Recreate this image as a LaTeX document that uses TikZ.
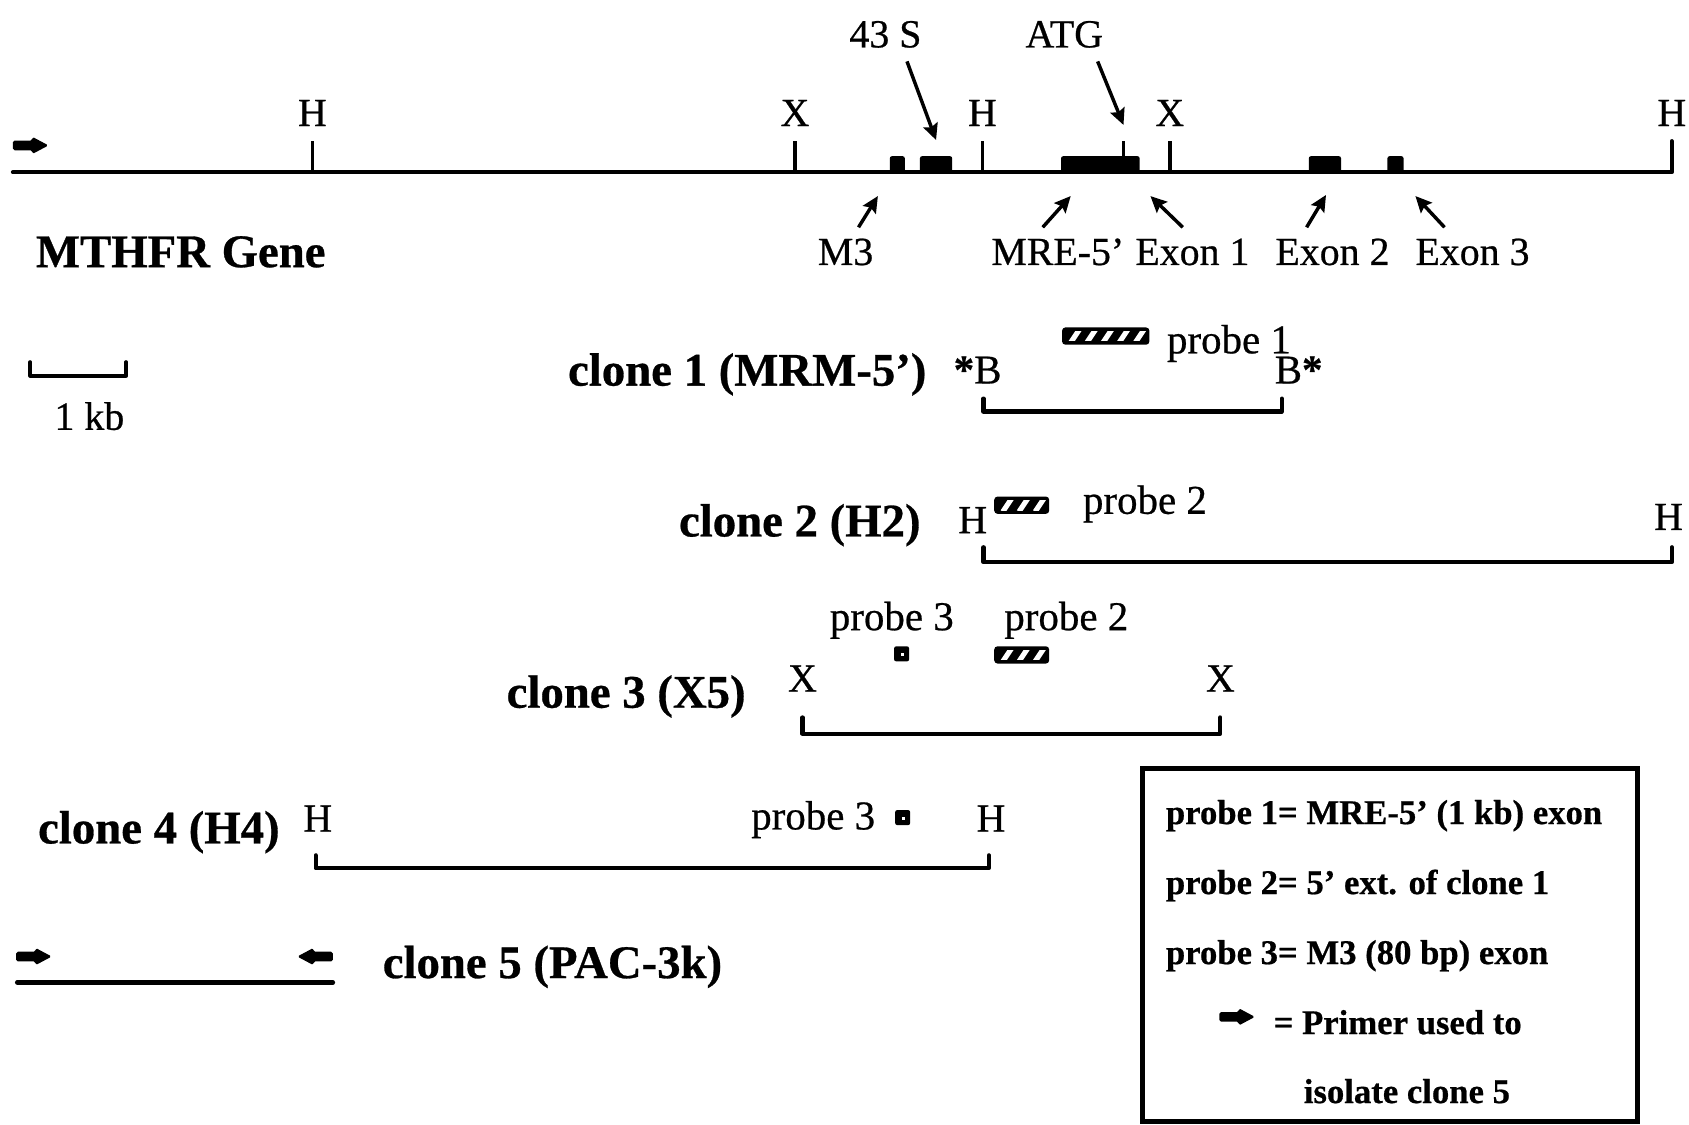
\documentclass[tikz,border=0pt]{standalone}
\usepackage{fontspec}
\setmainfont{Liberation Serif}[FakeBold=0.6]
\usetikzlibrary{arrows.meta}

% black probe bar with white slanted stripes: left x, top y, number of stripes
\newcommand\probebar[3]{%
  \fill[rounded corners=1.5] (#1,#2) rectangle ({#1+6+15*#3},{#2+16});
  \begin{scope}
    \clip ({#1+3},{#2+3.5}) rectangle ({#1+3+15*#3},{#2+12.5});
    \foreach \k in {1,...,#3}
      \draw[white,line width=2.4pt] ({#1+\k*15-7},{#2+14}) -- ({#1+\k*15+1},{#2+2});
  \end{scope}}
% small square probe with a white speck
\newcommand\probedot[2]{%
  \fill[rounded corners=1] (#1,#2) rectangle ({#1+14},{#2+14});
  \fill[white] ({#1+6},{#2+6}) rectangle ({#1+9},{#2+9});}

\begin{document}
\begin{tikzpicture}[x=0.5pt,y=-0.5pt,
  dnaline/.style={line width=1.9pt,line cap=round,line join=round},
  sitetick/.style={line width=1.6pt},
  ptr/.style={line width=1.6pt,-{Stealth[length=7.5pt,width=7pt,inset=1.2pt]}},
  site/.style={font=\fontsize{18.5}{20}\selectfont,inner sep=0pt,anchor=base},
  txt/.style={font=\fontsize{19}{21}\selectfont,inner sep=0pt,anchor=base west},
  clonelbl/.style={font=\bfseries\fontsize{21.7}{24}\selectfont,inner sep=0pt,anchor=base west},
  legtxt/.style={font=\bfseries\fontsize{16.1}{18}\selectfont,inner sep=0pt,anchor=base west},
  primer/.pic={\fill[rounded corners=0.8] (0,-4.5) -- (18,-4.5) -- (18,-8) -- (33,0) -- (18,8) -- (18,4.5) -- (0,4.5) -- cycle;}]

\useasboundingbox (0,0) rectangle (1568,1044);

% ---------------- gene map ----------------
\pic at (12,135) {primer};
\draw[dnaline] (12,160) -- (1552,160) -- (1552,131);
\foreach \x in {290,738,912,1043,1086}
  \draw[sitetick] (\x,160) -- (\x,131);

\node[site] (mH1) at (290,117) {H};
\node[site] (mX1) at (738,117) {X};
\node[site] (mH2) at (912,117) {H};
\node[site] (mX2) at (1086,117) {X};
\node[site] (mH3) at (1552,117) {H};

% exons
\fill[rounded corners=1] (826,145) rectangle (840,160);
\fill[rounded corners=1] (854,145) rectangle (884,160);
\fill[rounded corners=1] (985,145) rectangle (1058,160);
\fill[rounded corners=1] (1215,145) rectangle (1245,160);
\fill[rounded corners=1] (1288,145) rectangle (1303,160);

\node[site] (l43s) at (822,44) {43 S};
\node[site] (latg) at (988,44) {ATG};
\coordinate (s43a) at (842,57);  \coordinate (s43b) at (869,130);
\coordinate (atga) at (1019,57); \coordinate (atgb) at (1043,116);
\draw[ptr] (s43a) -- (s43b);
\draw[ptr] (atga) -- (atgb);

\node[clonelbl] (gene) at (33,248) {MTHFR Gene};
\node[site] (lm3)  at (785,246) {M3};
\node[site] (lmre) at (982,246) {MRE-5’};
\node[site] (le1)  at (1107,246) {Exon 1};
\node[site] (le2)  at (1237,246) {Exon 2};
\node[site] (le3)  at (1367,246) {Exon 3};
\coordinate (m3a) at (797,211);   \coordinate (m3b) at (815,182);
\coordinate (mrea) at (968,211);  \coordinate (mreb) at (994,182);
\coordinate (e1a) at (1098,211);  \coordinate (e1b) at (1068,182);
\coordinate (e2a) at (1213,211);  \coordinate (e2b) at (1231,181);
\coordinate (e3a) at (1341,211);  \coordinate (e3b) at (1314,182);
\draw[ptr] (m3a) -- (m3b);
\draw[ptr] (mrea) -- (mreb);
\draw[ptr] (e1a) -- (e1b);
\draw[ptr] (e2a) -- (e2b);
\draw[ptr] (e3a) -- (e3b);

% scale bar
\draw[dnaline,line width=1.6pt] (28,336) -- (28,349) -- (117,349) -- (117,336);
\node[site] (kb) at (83,399) {1 kb};

% ---------------- clone 1 ----------------
\node[clonelbl] (c1) at (527,358) {clone 1 (MRM-5’)};
\node[txt] (c1l) at (885,356) {{\bfseries*}B};
\node[txt] (c1r) at (1183,356) {B{\bfseries*}};
\probebar{986}{304}{5}
\node[txt] (p1) at (1083,328) {probe 1};
\draw[dnaline] (913,370) -- (913,382) -- (1190,382) -- (1190,370);

% ---------------- clone 2 ----------------
\node[clonelbl] (c2) at (630,498) {clone 2 (H2)};
\node[site] (c2l) at (903,495) {H};
\node[site] (c2r) at (1549,492) {H};
\probebar{923}{461}{3}
\node[txt] (p2a) at (1005,477) {probe 2};
\draw[dnaline] (913,508) -- (913,522) -- (1552,522) -- (1552,508);

% ---------------- clone 3 ----------------
\node[txt] (p3a) at (770,585) {probe 3};
\node[txt] (p2b) at (932,585) {probe 2};
\probedot{830}{600}
\probebar{923}{600}{3}
\node[clonelbl] (c3) at (470,657) {clone 3 (X5)};
\node[site] (c3l) at (745,642) {X};
\node[site] (c3r) at (1133,642) {X};
\draw[dnaline] (745,666) -- (745,681) -- (1133,681) -- (1133,666);

% ---------------- clone 4 ----------------
\node[clonelbl] (c4) at (35,783) {clone 4 (H4)};
\node[site] (c4l) at (295,772) {H};
\node[txt] (p3b) at (697,770) {probe 3};
\probedot{831}{752}
\node[site] (c4r) at (920,772) {H};
\draw[dnaline] (293,794) -- (293,806) -- (918,806) -- (918,794);

% ---------------- clone 5 ----------------
\pic at (15,888) {primer};
\pic[xscale=-1] at (309,888) {primer};
\draw[dnaline,line width=2.1pt] (16,912) -- (309,912);
\node[clonelbl] (c5) at (355,908) {clone 5 (PAC-3k)};

% ---------------- key ----------------
\draw[line width=2.3pt] (1061,713) rectangle (1520,1041);
\node[legtxt] (k1) at (1082,765) {probe 1= MRE-5’ (1 kb) exon};
\node[legtxt] (k2) at (1082,830) {probe 2= 5’ ext. of clone 1};
\node[legtxt] (k3) at (1082,895) {probe 3= M3 (80 bp) exon};
\pic at (1132,944) {primer};
\node[legtxt] (k4) at (1182,960) {= Primer used to};
\node[legtxt] (k5) at (1210,1024) {isolate clone 5};
\end{tikzpicture}
\end{document}
